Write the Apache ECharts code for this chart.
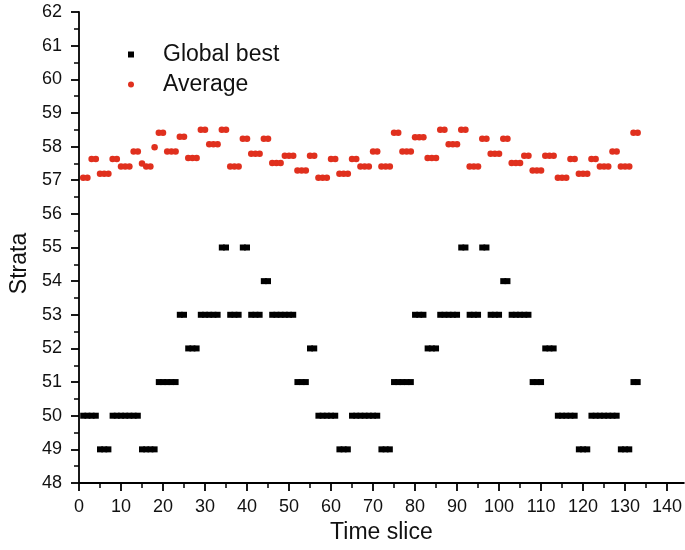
<!DOCTYPE html>
<html>
<head>
<meta charset="utf-8">
<script src="https://cdn.jsdelivr.net/npm/echarts@6/dist/echarts.min.js"></script>
<style>
html,body{margin:0;padding:0;background:#fff;}
#chart{width:685px;height:550px;}
</style>
</head>
<body>
<div id="chart"></div>
<script>
var timeSlice = [
  1,2,3,4,5,6,7,8,9,10,
  11,12,13,14,15,16,17,18,19,20,
  21,22,23,24,25,26,27,28,29,30,
  31,32,33,34,35,36,37,38,39,40,
  41,42,43,44,45,46,47,48,49,50,
  51,52,53,54,55,56,57,58,59,60,
  61,62,63,64,65,66,67,68,69,70,
  71,72,73,74,75,76,77,78,79,80,
  81,82,83,84,85,86,87,88,89,90,
  91,92,93,94,95,96,97,98,99,100,
  101,102,103,104,105,106,107,108,109,110,
  111,112,113,114,115,116,117,118,119,120,
  121,122,123,124,125,126,127,128,129,130,
  131,132,133
];
var globalBest = [
  50,50,50,50,49,49,49,50,50,50,
  50,50,50,50,49,49,49,49,51,51,
  51,51,51,53,53,52,52,52,53,53,
  53,53,53,55,55,53,53,53,55,55,
  53,53,53,54,54,53,53,53,53,53,
  53,51,51,51,52,52,50,50,50,50,
  50,49,49,49,50,50,50,50,50,50,
  50,49,49,49,51,51,51,51,51,53,
  53,53,52,52,52,53,53,53,53,53,
  55,55,53,53,53,55,55,53,53,53,
  54,54,53,53,53,53,53,51,51,51,
  52,52,52,50,50,50,50,50,49,49,
  49,50,50,50,50,50,50,50,49,49,
  49,51,51
];
var average = [
  57.07,57.07,57.63,57.63,57.19,57.19,57.19,57.63,57.63,57.41,
  57.41,57.41,57.85,57.85,57.5,57.41,57.41,57.98,58.41,58.41,
  57.85,57.85,57.85,58.29,58.29,57.66,57.66,57.66,58.5,58.5,
  58.07,58.07,58.07,58.5,58.5,57.41,57.41,57.41,58.23,58.23,
  57.79,57.79,57.79,58.23,58.23,57.51,57.51,57.51,57.73,57.73,
  57.73,57.29,57.29,57.29,57.73,57.73,57.07,57.07,57.07,57.63,
  57.63,57.19,57.19,57.19,57.63,57.63,57.41,57.41,57.41,57.85,
  57.85,57.41,57.41,57.41,58.41,58.41,57.85,57.85,57.85,58.28,
  58.28,58.28,57.66,57.66,57.66,58.5,58.5,58.07,58.07,58.07,
  58.5,58.5,57.41,57.41,57.41,58.23,58.23,57.79,57.79,57.79,
  58.23,58.23,57.51,57.51,57.51,57.73,57.73,57.29,57.29,57.29,
  57.73,57.73,57.73,57.07,57.07,57.07,57.63,57.63,57.19,57.19,
  57.19,57.63,57.63,57.41,57.41,57.41,57.85,57.85,57.41,57.41,
  57.41,58.41,58.41
];
var xTickValues = [0,10,20,30,40,50,60,70,80,90,100,110,120,130,140];
var seriesNames = ['Global best', 'Average'];

var FONT = 'Liberation Sans, Arial, Helvetica, sans-serif';
var chart = echarts.init(document.getElementById('chart'), null, {renderer: 'canvas'});

function pairs(xs, ys) {
  return xs.map(function (x, i) { return [x, ys[i]]; });
}

var option = {
  backgroundColor: '#ffffff',
  animation: false,
  grid: {left: 76, right: 1, top: 12, bottom: 67, containLabel: false},
  legend: {
    data: [
      {name: seriesNames[0], icon: 'rect'},
      {name: seriesNames[1], icon: 'circle'}
    ],
    orient: 'vertical',
    left: 123,
    top: 38,
    itemWidth: 6,
    itemHeight: 6,
    itemGap: 7,
    textStyle: {fontSize: 23, fontFamily: FONT, color: '#111', lineHeight: 23, padding: [0, 0, 0, 24]}
  },
  xAxis: {
    type: 'value',
    min: 0,
    max: 144,
    interval: 10,
    name: 'Time slice',
    nameLocation: 'middle',
    nameGap: 36,
    nameTextStyle: {fontSize: 23, fontFamily: FONT, color: '#111'},
    axisLine: {show: true, onZero: false, lineStyle: {color: '#000', width: 1.8}},
    axisTick: {show: true, inside: false, length: 8, lineStyle: {color: '#000', width: 1.8}, customValues: xTickValues},
    minorTick: {show: true, splitNumber: 2, length: 5, lineStyle: {color: '#000', width: 1.5}},
    axisLabel: {fontSize: 18, fontFamily: FONT, color: '#111', margin: 15, customValues: xTickValues},
    splitLine: {show: false},
    minorSplitLine: {show: false}
  },
  yAxis: {
    type: 'value',
    min: 48,
    max: 62,
    interval: 1,
    name: 'Strata',
    nameLocation: 'middle',
    nameGap: 48,
    nameTextStyle: {fontSize: 23, fontFamily: FONT, color: '#111', padding: [0, 32, 0, 0]},
    axisLine: {show: true, onZero: false, lineStyle: {color: '#000', width: 1.8}},
    axisTick: {show: true, inside: false, length: 8, lineStyle: {color: '#000', width: 1.8}},
    minorTick: {show: true, splitNumber: 2, length: 5, lineStyle: {color: '#000', width: 1.5}},
    axisLabel: {fontSize: 18, fontFamily: FONT, color: '#111', margin: 17},
    splitLine: {show: false},
    minorSplitLine: {show: false}
  },
  series: [
    {
      name: seriesNames[0],
      type: 'scatter',
      symbol: 'rect',
      symbolSize: [6, 6],
      itemStyle: {color: '#000000', opacity: 1},
      data: pairs(timeSlice, globalBest),
      z: 3
    },
    {
      name: seriesNames[1],
      type: 'scatter',
      symbol: 'circle',
      symbolSize: 6.5,
      itemStyle: {color: '#e0301e', opacity: 1},
      data: pairs(timeSlice, average),
      z: 4
    }
  ]
};
chart.setOption(option);
</script>
</body>
</html>
